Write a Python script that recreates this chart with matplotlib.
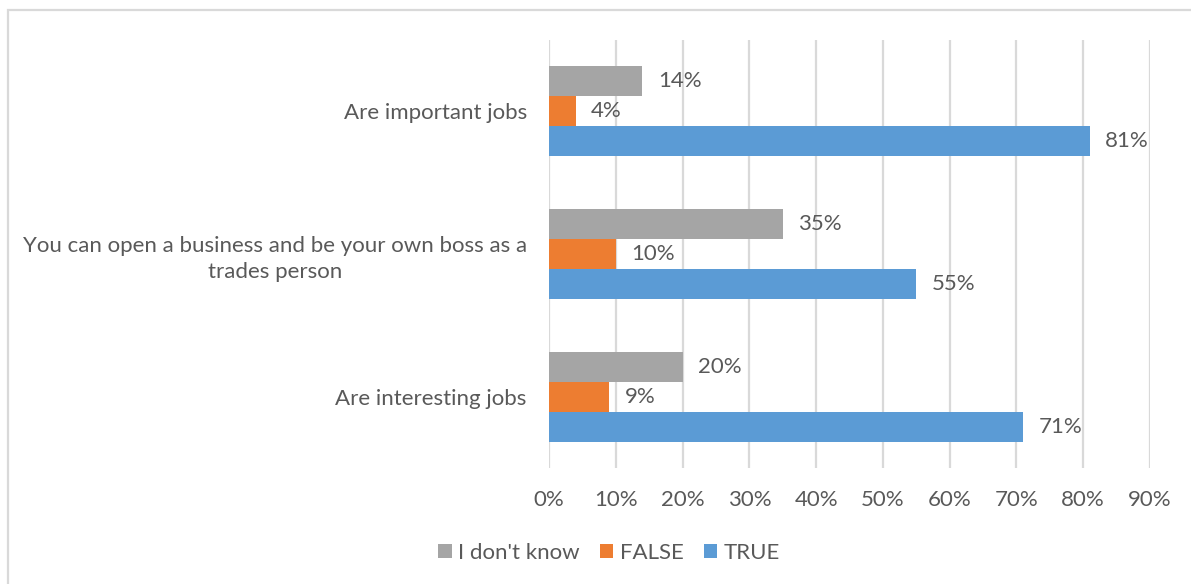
import matplotlib.pyplot as plt
import numpy as np
from matplotlib.patches import Rectangle
from matplotlib.ticker import PercentFormatter

plt.rcParams['font.family'] = ['Lato', 'DejaVu Sans']

# categories from bottom to top
categories = ['Are interesting jobs',
              'You can open a business and be your own boss as a\ntrades person',
              'Are important jobs']
dont_know = [20, 35, 14]
false_vals = [9, 10, 4]
true_vals = [71, 55, 81]
series_names = ["I don't know", 'FALSE', 'TRUE']

grey = '#A5A5A5'
orange = '#ED7D31'
blue = '#5B9BD5'
txt = '#595959'
fs = 16

fig = plt.figure(figsize=(11.91, 5.84), dpi=100)
ax = fig.add_axes([549 / 1191, 1 - 468 / 584, (1150 - 549) / 1191, 428 / 584])

y = np.arange(len(categories))
h = 0.21
bars = []
for vals, off, col, name in [(dont_know, h, grey, series_names[0]),
                             (false_vals, 0, orange, series_names[1]),
                             (true_vals, -h, blue, series_names[2])]:
    b = ax.barh(y + off, [v / 100 for v in vals], height=h, color=col,
                label=name, zorder=3)
    bars.append(b)
    for yi, v in zip(y + off, vals):
        ax.annotate(f'{v}%', (v / 100, yi), xytext=(11, 0),
                    textcoords='offset points', va='center', ha='left',
                    fontsize=fs, color=txt)

ax.set_xlim(0, 0.9)
ax.set_ylim(-0.5, 2.5)
ax.set_xticks(np.arange(0, 0.91, 0.1))
ax.xaxis.set_major_formatter(PercentFormatter(1.0, decimals=0))
ax.set_yticks(y)
ax.set_yticklabels(categories, multialignment='center', linespacing=1.35)
ax.tick_params(axis='x', length=0, pad=16, labelsize=fs, labelcolor=txt)
ax.tick_params(axis='y', length=0, pad=16, labelsize=fs, labelcolor=txt)
ax.grid(axis='x', color='#D9D9D9', linewidth=1.6, zorder=0)
for s in ax.spines.values():
    s.set_visible(False)

# outer chart border
fig.patches.append(Rectangle((8 / 1191, -0.1), 1.2, 1 - 10 / 584 + 0.1,
                             transform=fig.transFigure, fill=False,
                             edgecolor='#D9D9D9', linewidth=1.6))

fig.legend(bars, series_names, loc='center',
           bbox_to_anchor=(609 / 1191, 1 - 553 / 584), ncol=3, frameon=False,
           fontsize=fs, labelcolor=txt, handlelength=0.6, handleheight=0.6,
           handletextpad=0.3, columnspacing=0.9)

fig.savefig('out.png', dpi=100)
